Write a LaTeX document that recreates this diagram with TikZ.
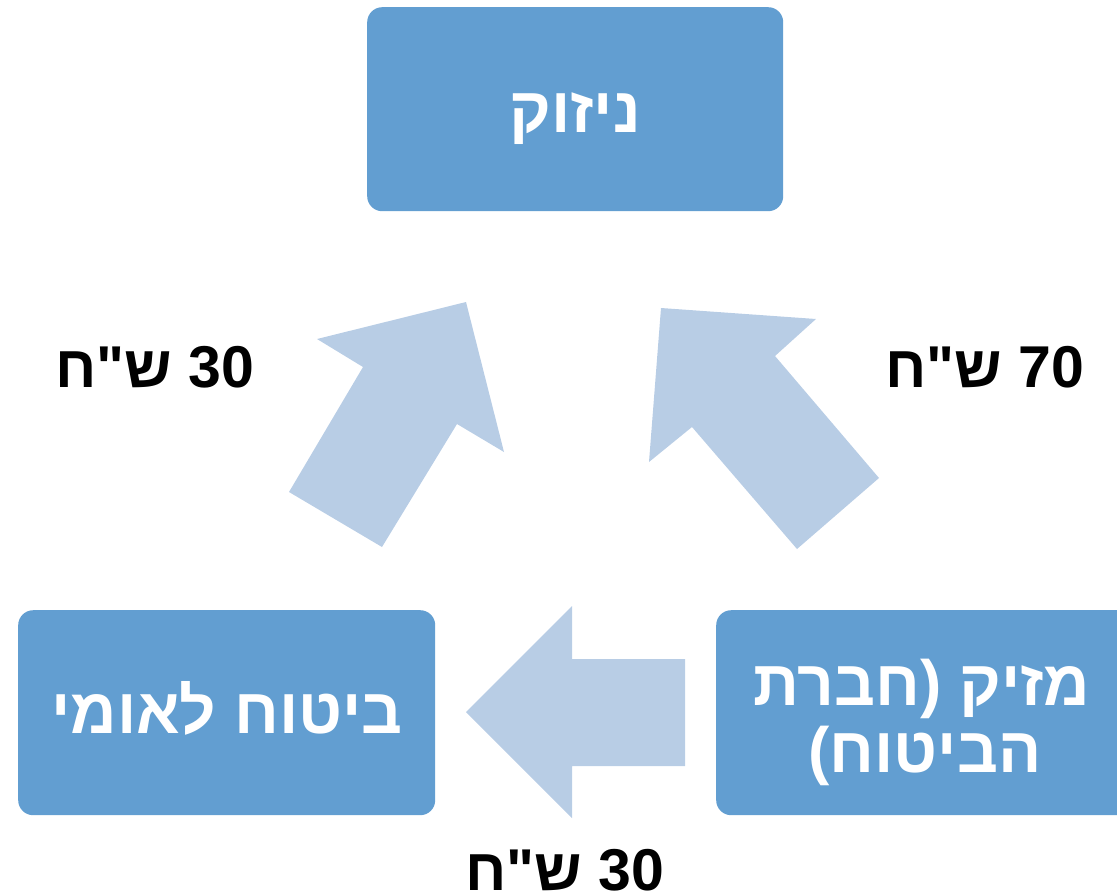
\documentclass[tikz,border=0pt]{standalone}
\usepackage{fontspec}
\newfontfamily\hebfont[Script=Hebrew]{Liberation Sans}
\TeXXeTstate=1
\definecolor{boxblue}{RGB}{98,158,209}
\definecolor{arrowblue}{RGB}{184,205,229}
\begin{document}
\begin{tikzpicture}[x=1pt,y=-1pt,
  box/.style={fill=boxblue, rounded corners=15pt, draw=none, inner sep=0pt, anchor=north west},
  boxtext/.style={text=white, inner sep=0pt, anchor=base, font=\hebfont\bfseries\fontsize{64}{68}\selectfont},
  lbl/.style={text=black, inner sep=0pt, anchor=base, font=\hebfont\bfseries\fontsize{59}{62}\selectfont},
  blockarrow/.style={fill=arrowblue, draw=none}]
\useasboundingbox (0,0) rectangle (1117,895);
\clip (0,0) rectangle (1117,895);
% boxes
\node[box, minimum width=416pt, minimum height=204pt] (topbox) at (367,7) {};
\node[box, minimum width=417pt, minimum height=205pt] (leftbox) at (18,610) {};
\node[box, minimum width=417pt, minimum height=205pt] (rightbox) at (716,610) {};
% box texts
\node[boxtext] (toptext) at (575,132) {\beginR ניזוק\endR};
\node[boxtext] (lefttext) at (227,733) {\beginR ביטוח לאומי\endR};
\node[boxtext] (righttext1) at (922,705) {\beginR מזיק (חברת\endR};
\node[boxtext] (righttext2) at (925,772) {\beginR הביטוח)\endR};
% block arrows
\fill[blockarrow] (466,302) -- (317,339) -- (363,367) -- (289,492) -- (382,547) -- (457,424) -- (504,452) -- cycle;
\fill[blockarrow] (661,308) -- (816,319) -- (775,356) -- (879,478) -- (797,549) -- (692,427) -- (649,462) -- cycle;
\fill[blockarrow] (466,712) -- (572,606) -- (572,659) -- (685,659) -- (685,766) -- (572,766) -- (572,818) -- cycle;
% labels
\node[lbl] (lbl1) at (155,387) {\beginR\beginL 30\endL{} ש"ח\endR};
\node[lbl] (lbl2) at (985,387) {\beginR\beginL 70\endL{} ש"ח\endR};
\node[lbl] (lbl3) at (565,890) {\beginR\beginL 30\endL{} ש"ח\endR};
\end{tikzpicture}
\end{document}
